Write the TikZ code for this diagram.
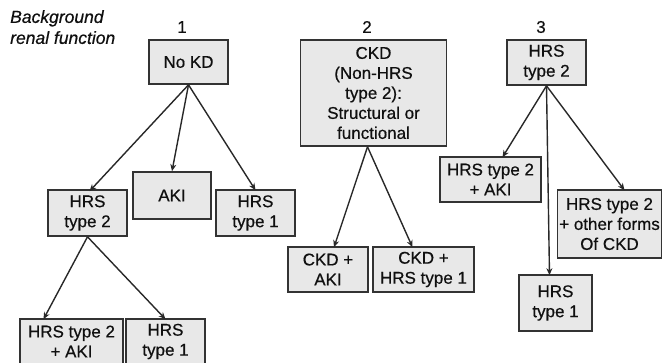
\documentclass[tikz,border=0pt]{standalone}
\usepackage{fontspec}
\setmainfont{Liberation Sans}[UprightFeatures={FakeBold=0.5},ItalicFeatures={FakeBold=0.5}]
\usetikzlibrary{arrows.meta,calc}
\definecolor{boxfill}{HTML}{E8E8E8}
\definecolor{boxline}{HTML}{333333}
\definecolor{txt}{HTML}{101010}
\tikzset{
  kbox/.style={draw=boxline, fill=boxfill, line width=1.6pt, align=center,
    inner sep=0pt, text=txt, font=\fontsize{17}{20}\selectfont},
  conn/.style={draw=txt!90, line width=1.4pt, -{Stealth[length=7pt,width=6pt]}},
  numlab/.style={text=txt, font=\fontsize{17}{20}\selectfont}
}
\begin{document}
\begin{tikzpicture}[x=1pt,y=-1pt]
\useasboundingbox (0,0) rectangle (662,362);
\clip (0,0) rectangle (662,362);
% header
\node[anchor=north west, align=left, text=txt, font=\fontsize{17.5}{21}\selectfont\itshape, inner sep=0pt] (bg) at (10,10) {Background\\renal function};
\node[numlab] (n1) at (182,27) {1};
\node[numlab] (n2) at (367,27) {2};
\node[numlab] (n3) at (541,27) {3};
% column 1
\node[kbox, minimum width=79pt, minimum height=44pt] (nokd) at (188.5,62) {No KD};
\node[kbox, minimum width=78pt, minimum height=47pt] (aki) at (172,195.5) {AKI};
\node[kbox, minimum width=79pt, minimum height=46pt] (hrs2l) at (87.5,213) {HRS\\type 2};
\node[kbox, minimum width=79pt, minimum height=46pt] (hrs1a) at (255.5,213) {HRS\\type 1};
\node[kbox, minimum width=103pt, minimum height=45pt] (hrs2akib) at (71.5,341.5) {HRS type 2\\+ AKI};
\node[kbox, minimum width=79pt, minimum height=45pt] (hrs1b) at (165.5,341.5) {HRS\\type 1};
% column 2
\node[kbox, minimum width=146pt, minimum height=106pt] (ckd) at (373.5,93) {CKD\\(Non-HRS\\type 2):\\Structural or\\functional};
\node[kbox, minimum width=80pt, minimum height=45pt] (ckdaki) at (328,269.5) {CKD +\\AKI};
\node[kbox, minimum width=101pt, minimum height=45pt] (ckdhrs) at (423.5,269.5) {CKD +\\HRS type 1};
% column 3
\node[kbox, minimum width=79pt, minimum height=45pt] (hrs3) at (546.5,62.5) {HRS\\type 2};
\node[kbox, minimum width=101pt, minimum height=45pt] (hrs2aki3) at (490.5,179.5) {HRS type 2\\+ AKI};
\node[kbox, minimum width=104pt, minimum height=68pt] (hrs2oth) at (609.5,224) {HRS type 2\\+ other forms\\Of CKD};
\node[kbox, minimum width=73pt, minimum height=56pt] (hrs1c) at (555.5,303) {HRS\\type 1};
% connectors
\draw[conn] (nokd.south) -- ([xshift=2pt,yshift=-2pt]hrs2l.north);
\draw[conn] (nokd.south) -- (aki.north);
\draw[conn] (nokd.south) -- ([yshift=-1pt]hrs1a.north);
\draw[conn] (hrs2l.south) -- ([xshift=-28pt,yshift=-1pt]hrs2akib.north);
\draw[conn] (hrs2l.south) -- ([yshift=-1pt]hrs1b.north);
\draw[conn] ([xshift=-6pt]ckd.south) -- ([xshift=6pt,yshift=-1pt]ckdaki.north);
\draw[conn] ([xshift=-6pt]ckd.south) -- ([xshift=-11pt,yshift=-1pt]ckdhrs.north);
\draw[conn] (hrs3.south) -- ([xshift=12pt,yshift=-1pt]hrs2aki3.north);
\draw[conn] (hrs3.south) -- ([xshift=-6pt,yshift=-1pt]hrs1c.north);
\draw[conn] (hrs3.south) -- ([xshift=15pt,yshift=-1pt]hrs2oth.north);
\end{tikzpicture}
\end{document}
